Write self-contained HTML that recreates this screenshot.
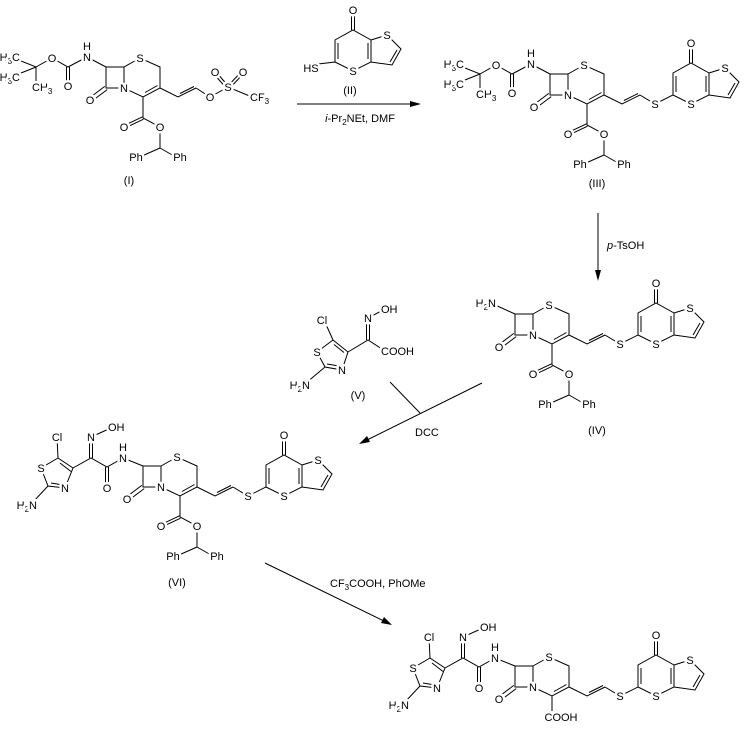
<!DOCTYPE html>
<html><head><meta charset="utf-8">
<style>
html,body{margin:0;padding:0;background:#fff;}
svg{display:block;}
text{font-family:"Liberation Sans",sans-serif;font-size:11px;fill:#000;paint-order:stroke;stroke:#fff;stroke-width:5px;stroke-linejoin:round;}
text.n{stroke:none;}
.a{text-anchor:middle;}
.e{text-anchor:end;}
path{fill:none;stroke:#000;stroke-width:1;}
tspan.s{font-size:8px;}
</style></head><body>
<svg width="749" height="730" viewBox="0 0 749 730" xmlns="http://www.w3.org/2000/svg">
<defs></defs>

<!-- ========== Compound I ========== -->
<g transform="translate(124,88)">
<path d="M-18,-21 L0,-21 L0,0 L-18,0 Z M-16.8,1.6 L-32.8,13.6 M-19.2,-1.6 L-35.2,10.4 M0,-21 L16,-30 L36,-21 L36,0 L19,9 L0,0 M33.5,-2.5 L21,4.5 M36,0 L54,9 L72,0 M56,5.5 L70,-1.5"/>
<path d="M-18,-21 L-37,-31 L-56,-21 L-72,-30 L-88,-21 L-108,-29 M-88,-21 L-108,-13 M-88,-21 L-88,-5 M-57.5,-21 L-57.5,-2 M-54.5,-21 L-54.5,-2"/>
<path d="M19,9 L19,30 L36,39 L36,60 L18,68 M36,60 L50,68 M19.5,31.2 L0.5,40.2 M18.5,28.8 L-0.5,37.8"/>
<path d="M72,0 L86,9 L104,-1 L128,9 M105,-1 L93,-15 M103,1 L90,-14 M103,-1 L117,-16 M105,1 L119,-14"/>
<text class="a" x="0" y="4">N</text><text class="a" x="16" y="-26">S</text><text class="a" x="-34" y="16">O</text>
<text class="a" x="-37" y="-27">N</text><text class="a" x="-37" y="-38">H</text><text class="a" x="-72" y="-26">O</text><text class="a" x="-56" y="2">O</text>
<text class="e" x="-104" y="-27">H<tspan class="s" dy="3">3</tspan><tspan dy="-3">C</tspan></text>
<text class="e" x="-104" y="-7">H<tspan class="s" dy="3">3</tspan><tspan dy="-3">C</tspan></text>
<text x="-92" y="3">CH<tspan class="s" dy="3">3</tspan></text>
<text class="a" x="0" y="43">O</text><text class="a" x="36" y="43">O</text>
<text class="a" x="12" y="73">Ph</text><text class="a" x="56" y="73">Ph</text>
<text class="a" x="86" y="13">O</text><text class="a" x="104" y="3">S</text><text class="a" x="91" y="-12">O</text><text class="a" x="119" y="-12">O</text>
<text x="126" y="13">CF<tspan class="s" dy="3">3</tspan></text>
</g>
<text class="a n" x="129" y="184">(I)</text>

<!-- ========== Compound II ========== -->
<g transform="translate(230,62)">
<path d="M88,2 L105,0 L105,-22 L123,-32 L141,-22 L141,0 L123,9 L105,0 M108,-3 L108,-19 M121.5,-32 L121.5,-52 M124.5,-32 L124.5,-52 M138,-19 L138,-3 M141,-22 L157,-27 L171,-13 L162,3 L141,0 M167,-12 L160,0"/>
<text class="a" x="123" y="13">S</text><text class="a" x="123" y="-48">O</text><text class="a" x="157" y="-23">S</text>
<text class="a" x="81" y="10">HS</text>
</g>
<text class="a n" x="350" y="94">(II)</text>

<!-- arrow 1 -->
<path d="M297,104 L414,104"/>
<polygon points="421,104 410,101 410,107" fill="#000"/>
<text class="a n" x="360" y="122"><tspan font-style="italic">i</tspan>-Pr<tspan class="s" dy="3">2</tspan><tspan dy="-3">NEt, DMF</tspan></text>

<!-- ========== Compound III ========== -->
<g transform="translate(568,95)">
<path d="M-18,-21 L0,-21 L0,0 L-18,0 Z M-16.8,1.6 L-32.8,13.6 M-19.2,-1.6 L-35.2,10.4 M0,-21 L16,-30 L36,-21 L36,0 L19,9 L0,0 M33.5,-2.5 L21,4.5 M36,0 L54,9 L72,0 M56,5.5 L70,-1.5"/>
<path d="M-18,-21 L-37,-31 L-56,-21 L-72,-30 L-88,-21 L-108,-29 M-88,-21 L-108,-13 M-88,-21 L-88,-5 M-57.5,-21 L-57.5,-2 M-54.5,-21 L-54.5,-2"/>
<path d="M19,9 L19,30 L36,39 L36,60 L18,68 M36,60 L50,68 M19.5,31.2 L0.5,40.2 M18.5,28.8 L-0.5,37.8"/>
<path d="M72,0 L87,9 L105,0 L105,-22 L123,-32 L141,-22 L141,0 L123,9 L105,0 M108,-3 L108,-19 M121.5,-32 L121.5,-52 M124.5,-32 L124.5,-52 M138,-19 L138,-3 M141,-22 L157,-27 L171,-13 L162,3 L141,0 M167,-12 L160,0"/>
<text class="a" x="0" y="4">N</text><text class="a" x="16" y="-26">S</text><text class="a" x="-34" y="16">O</text>
<text class="a" x="-37" y="-27">N</text><text class="a" x="-37" y="-38">H</text><text class="a" x="-72" y="-26">O</text><text class="a" x="-56" y="2">O</text>
<text class="e" x="-104" y="-27">H<tspan class="s" dy="3">3</tspan><tspan dy="-3">C</tspan></text>
<text class="e" x="-104" y="-7">H<tspan class="s" dy="3">3</tspan><tspan dy="-3">C</tspan></text>
<text x="-92" y="3">CH<tspan class="s" dy="3">3</tspan></text>
<text class="a" x="0" y="43">O</text><text class="a" x="36" y="43">O</text>
<text class="a" x="12" y="73">Ph</text><text class="a" x="56" y="73">Ph</text>
<text class="a" x="87" y="13">S</text><text class="a" x="123" y="13">S</text><text class="a" x="123" y="-48">O</text><text class="a" x="157" y="-23">S</text>
</g>
<text class="a n" x="597" y="187">(III)</text>

<!-- arrow 2 -->
<path d="M598,213 L598,273"/>
<polygon points="598,281 595,270 601,270" fill="#000"/>
<text class="n" x="607" y="249"><tspan font-style="italic">p</tspan>-TsOH</text>

<!-- ========== Compound IV ========== -->
<g transform="translate(533,335)">
<path d="M-18,-21 L0,-21 L0,0 L-18,0 Z M-16.8,1.6 L-32.8,13.6 M-19.2,-1.6 L-35.2,10.4 M0,-21 L16,-30 L36,-21 L36,0 L19,9 L0,0 M33.5,-2.5 L21,4.5 M36,0 L54,9 L72,0 M56,5.5 L70,-1.5"/>
<path d="M-18,-21 L-40,-31"/>
<path d="M19,9 L19,30 L36,39 L36,60 L18,68 M36,60 L50,68 M19.5,31.2 L0.5,40.2 M18.5,28.8 L-0.5,37.8"/>
<path d="M72,0 L87,9 L105,0 L105,-22 L123,-32 L141,-22 L141,0 L123,9 L105,0 M108,-3 L108,-19 M121.5,-32 L121.5,-52 M124.5,-32 L124.5,-52 M138,-19 L138,-3 M141,-22 L157,-27 L171,-13 L162,3 L141,0 M167,-12 L160,0"/>
<text class="a" x="0" y="4">N</text><text class="a" x="16" y="-26">S</text><text class="a" x="-34" y="16">O</text>
<text class="e" x="-37" y="-28">H<tspan class="s" dy="3">2</tspan><tspan dy="-3">N</tspan></text>
<text class="a" x="0" y="43">O</text><text class="a" x="36" y="43">O</text>
<text class="a" x="12" y="73">Ph</text><text class="a" x="56" y="73">Ph</text>
<text class="a" x="87" y="13">S</text><text class="a" x="123" y="13">S</text><text class="a" x="123" y="-48">O</text><text class="a" x="157" y="-23">S</text>
</g>
<text class="a n" x="597" y="434">(IV)</text>

<!-- ========== Compound V ========== -->
<path d="M317,352 L333,340 L348,352 L342,370 L325,367 L317,352 M334,344.5 L344,352.5 M327,364 L339,366 M333,340 L324,320 M348,352 L368,340 L385,351 M366.5,340 L366.5,318 M369.5,340 L369.5,318 M368,318 L385,309 M325,367 L306,383"/>
<text class="a" x="317" y="356">S</text><text class="a" x="342" y="374">N</text><text class="a" x="322" y="324">Cl</text>
<text class="a" x="368" y="322">N</text><text x="381" y="313">OH</text><text x="381" y="355">COOH</text>
<text class="e" x="310" y="389">H<tspan class="s" dy="3">2</tspan><tspan dy="-3">N</tspan></text>
<text class="a n" x="358" y="399">(V)</text>

<!-- arrow 3 (DCC) -->
<path d="M482,383 L367,440 M390,382 L420,413"/>
<polygon points="359,444 367,436 370,442" fill="#000"/>
<text class="n" x="415" y="436">DCC</text>

<!-- ========== Compound VI ========== -->
<g transform="translate(161,487)">
<path d="M-18,-21 L0,-21 L0,0 L-18,0 Z M-16.8,1.6 L-32.8,13.6 M-19.2,-1.6 L-35.2,10.4 M0,-21 L16,-30 L36,-21 L36,0 L19,9 L0,0 M33.5,-2.5 L21,4.5 M36,0 L54,9 L72,0 M56,5.5 L70,-1.5"/>
<path d="M-18,-21 L-38,-29 L-54,-20 L-70,-29 L-88,-19 M-55.5,-20 L-55.5,1 M-52.5,-20 L-52.5,1 M-71.5,-29 L-71.5,-50 M-68.5,-29 L-68.5,-50 M-70,-50 L-50,-59 M-88,-19 L-103,-29 L-104,-50 M-103,-29 L-120,-19 L-113,-1 L-96,1 L-88,-19 M-90,-15.5 L-101,-24 M-110,-4 L-98,-2 M-113,-1 L-128,15"/>
<path d="M19,9 L19,30 L36,39 L36,60 L18,68 M36,60 L50,68 M19.5,31.2 L0.5,40.2 M18.5,28.8 L-0.5,37.8"/>
<path d="M72,0 L87,9 L105,0 L105,-22 L123,-32 L141,-22 L141,0 L123,9 L105,0 M108,-3 L108,-19 M121.5,-32 L121.5,-52 M124.5,-32 L124.5,-52 M138,-19 L138,-3 M141,-22 L157,-27 L171,-13 L162,3 L141,0 M167,-12 L160,0"/>
<text class="a" x="0" y="4">N</text><text class="a" x="16" y="-26">S</text><text class="a" x="-34" y="16">O</text>
<text class="a" x="-38" y="-25">N</text><text class="a" x="-38" y="-36">H</text><text class="a" x="-54" y="5">O</text>
<text class="a" x="-70" y="-46">N</text><text x="-53" y="-56">OH</text><text class="a" x="-104" y="-46">Cl</text>
<text class="a" x="-120" y="-15">S</text><text class="a" x="-96" y="5">N</text>
<text class="e" x="-124" y="22">H<tspan class="s" dy="3">2</tspan><tspan dy="-3">N</tspan></text>
<text class="a" x="0" y="43">O</text><text class="a" x="36" y="43">O</text>
<text class="a" x="12" y="73">Ph</text><text class="a" x="56" y="73">Ph</text>
<text class="a" x="87" y="13">S</text><text class="a" x="123" y="13">S</text><text class="a" x="123" y="-48">O</text><text class="a" x="157" y="-23">S</text>
</g>
<text class="a n" x="177" y="586">(VI)</text>

<!-- arrow 4 -->
<path d="M265,563 L384,621"/>
<polygon points="392,625 381,623 384,617" fill="#000"/>
<text class="n" x="330" y="587">CF<tspan class="s" dy="3">3</tspan><tspan dy="-3">COOH, PhOMe</tspan></text>

<!-- ========== Final compound ========== -->
<g transform="translate(533,687)">
<path d="M-18,-21 L0,-21 L0,0 L-18,0 Z M-16.8,1.6 L-32.8,13.6 M-19.2,-1.6 L-35.2,10.4 M0,-21 L16,-30 L36,-21 L36,0 L19,9 L0,0 M33.5,-2.5 L21,4.5 M36,0 L54,9 L72,0 M56,5.5 L70,-1.5"/>
<path d="M-18,-21 L-38,-29 L-54,-20 L-70,-29 L-88,-19 M-55.5,-20 L-55.5,1 M-52.5,-20 L-52.5,1 M-71.5,-29 L-71.5,-50 M-68.5,-29 L-68.5,-50 M-70,-50 L-50,-59 M-88,-19 L-103,-29 L-104,-50 M-103,-29 L-120,-19 L-113,-1 L-96,1 L-88,-19 M-90,-15.5 L-101,-24 M-110,-4 L-98,-2 M-113,-1 L-128,15"/>
<path d="M19,9 L19,24"/>
<path d="M72,0 L87,9 L105,0 L105,-22 L123,-32 L141,-22 L141,0 L123,9 L105,0 M108,-3 L108,-19 M121.5,-32 L121.5,-52 M124.5,-32 L124.5,-52 M138,-19 L138,-3 M141,-22 L157,-27 L171,-13 L162,3 L141,0 M167,-12 L160,0"/>
<text class="a" x="0" y="4">N</text><text class="a" x="16" y="-26">S</text><text class="a" x="-34" y="16">O</text>
<text class="a" x="-38" y="-25">N</text><text class="a" x="-38" y="-36">H</text><text class="a" x="-54" y="5">O</text>
<text class="a" x="-70" y="-46">N</text><text x="-53" y="-56">OH</text><text class="a" x="-104" y="-46">Cl</text>
<text class="a" x="-120" y="-15">S</text><text class="a" x="-96" y="5">N</text>
<text class="e" x="-124" y="22">H<tspan class="s" dy="3">2</tspan><tspan dy="-3">N</tspan></text>
<text class="a" x="28" y="34">COOH</text>
<text class="a" x="87" y="13">S</text><text class="a" x="123" y="13">S</text><text class="a" x="123" y="-48">O</text><text class="a" x="157" y="-23">S</text>
</g>
</svg>
</body></html>
